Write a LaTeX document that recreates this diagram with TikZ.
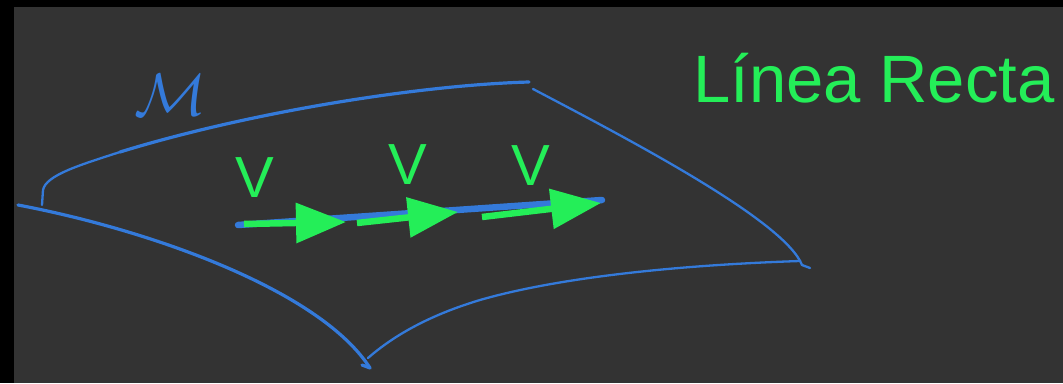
\documentclass[tikz,border=0pt]{standalone}
\usepackage{fontspec}
\setmainfont{Liberation Sans}
\usepackage{graphicx}
\usetikzlibrary{arrows.meta}
\definecolor{bg}{RGB}{51,51,51}
\definecolor{edgeblue}{RGB}{52,122,218}
\definecolor{vgreen}{RGB}{36,238,88}
\tikzset{
  surf/.style={draw=edgeblue, line width=3.2pt, line cap=round, line join=round},
  thinsurf/.style={surf, line width=2.3pt},
  vec/.style={draw=vgreen, line width=6.5pt, -{Triangle[length=50pt,width=39pt]}},
  lbl/.style={text=vgreen, inner sep=0pt, font=\fontsize{58}{58}\selectfont},
}
\begin{document}
\begin{tikzpicture}[x=1pt,y=-1pt]
\useasboundingbox (0,0) rectangle (1063,383);
\fill[black] (0,0) rectangle (1063,383);
\fill[bg] (14,7) rectangle (1063,383);
% surface outline
\draw[thinsurf] (42,205) -- (43,190) .. controls (46,175) and (80,165) .. (120,152);
\draw[surf] (120,152) .. controls (250,112) and (420,85) .. (529,82);
\draw[surf] (18,205) .. controls (150,230) and (320,290) .. (370,368) -- (362,365);
\draw[thinsurf] (533,89) .. controls (640,145) and (785,222) .. (802,265) -- (810,268);
\draw[thinsurf] (368,358) .. controls (400,330) and (440,312) .. (480,300)
   .. controls (560,277) and (680,265) .. (800,261);
% manifold label
\node[text=edgeblue, inner sep=0pt] (M) at (171,95) {\scalebox{6}{$\mathcal{M}$}};
% straight line
\coordinate (L0) at (238,225);
\coordinate (L1) at (602,200);
\draw[draw=edgeblue, line width=6.5pt, line cap=round] (L0) -- (L1);
% vectors
\coordinate (a0) at (244,224);
\coordinate (a1) at (346,222);
\coordinate (b0) at (357,223);
\coordinate (b1) at (458,212);
\coordinate (c0) at (482,217);
\coordinate (c1) at (601,203);
\draw[vec] (a0) -- (a1);
\draw[vec] (b0) -- (b1);
\draw[vec] (c0) -- (c1);
\node[lbl] (v1) at (255,178) {V};
\node[lbl] (v2) at (408,165) {V};
\node[lbl] (v3) at (531,166) {V};
% title
\node[text=vgreen, inner sep=0pt, anchor=base west, font=\fontsize{67}{67}\selectfont] (title) at (693,102) {Línea Recta};
\end{tikzpicture}
\end{document}
